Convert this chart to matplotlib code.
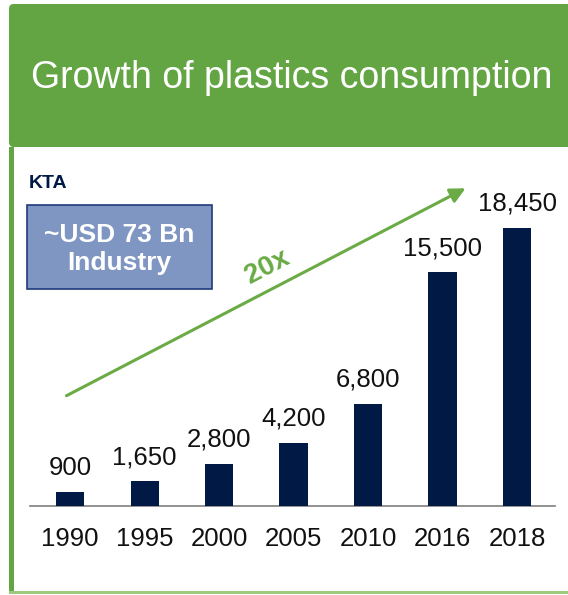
import matplotlib.pyplot as plt
from matplotlib.patches import Rectangle, FancyBboxPatch

plt.rcParams['font.family'] = ['Liberation Sans', 'DejaVu Sans']

years = ['1990', '1995', '2000', '2005', '2010', '2016', '2018']
consumption = [900, 1650, 2800, 4200, 6800, 15500, 18450]
value_labels = ['900', '1,650', '2,800', '4,200', '6,800', '15,500', '18,450']

green = '#63A543'
navy = '#001A45'

W, H = 568, 595
fig = plt.figure(figsize=(W / 100, H / 100), dpi=100)


def fx(px):
    return px / W


def fy(py):
    # top-origin pixel -> figure fraction
    return 1 - py / H


# header + frame
fig.patches.append(FancyBboxPatch((fx(9), fy(147)), fx(580 - 9), fy(4) - fy(147),
                                  boxstyle='round,pad=0,rounding_size=0.008',
                                  transform=fig.transFigure, facecolor=green,
                                  edgecolor='none', zorder=0))
fig.patches.append(Rectangle((fx(9), fy(593)), fx(5), fy(147) - fy(593),
                             transform=fig.transFigure, facecolor=green,
                             edgecolor='none', zorder=0))
fig.patches.append(Rectangle((fx(9), fy(594)), fx(570), fy(591) - fy(594),
                             transform=fig.transFigure, facecolor='#9CCB80',
                             edgecolor='none', zorder=0))
fig.text(fx(292), fy(78), 'Growth of plastics consumption', color='white',
         fontsize=27, ha='center', va='center')

# bar axes
base_px, top_px = 506, 160
ax = fig.add_axes([fx(30), fy(base_px), fx(555 - 30), fy(top_px) - fy(base_px)])
ax.patch.set_alpha(0)
x = list(range(len(years)))
ax.bar(x, consumption, width=0.376, color=navy, zorder=3)
for xi, v, lab in zip(x, consumption, value_labels):
    ax.text(xi, v + 800, lab, ha='center', va='bottom', fontsize=18.5, color='#111111')
ax.set_xlim(-0.537, 6.51)
ax.set_ylim(0, 22963)
ax.set_xticks(x)
ax.set_xticklabels(years, fontsize=18.5, color='#111111')
ax.tick_params(axis='x', length=0, pad=15)
ax.set_yticks([])
for s in ['top', 'right', 'left']:
    ax.spines[s].set_visible(False)
ax.spines['bottom'].set_color('#7F7F7F')
ax.spines['bottom'].set_linewidth(1.2)

# annotations
fig.text(fx(29), fy(184), 'KTA', fontsize=14, fontweight='bold', color=navy,
         ha='left', va='center')
fig.patches.append(Rectangle((fx(27), fy(289)), fx(212 - 27), fy(205) - fy(289),
                             transform=fig.transFigure, facecolor='#7F96C3',
                             edgecolor='#1F3A7A', linewidth=1.2, zorder=2))
fig.text(fx(119), fy(249), '~USD 73 Bn\nIndustry', fontsize=19, fontweight='bold',
         color='white', ha='center', va='center', linespacing=1.25)

ax.annotate('', xy=(fx(468), fy(187)), xytext=(fx(64), fy(397)),
            xycoords='figure fraction', textcoords='figure fraction',
            arrowprops=dict(arrowstyle='-|>,head_length=0.9,head_width=0.45',
                            color='#6AAB45', lw=2.2))
fig.text(fx(267), fy(267), '20x', fontsize=20, fontweight='bold', color='#6AAB45',
         rotation=27.5, ha='center', va='center', rotation_mode='anchor')

fig.savefig('out.png', dpi=100, facecolor='white')
